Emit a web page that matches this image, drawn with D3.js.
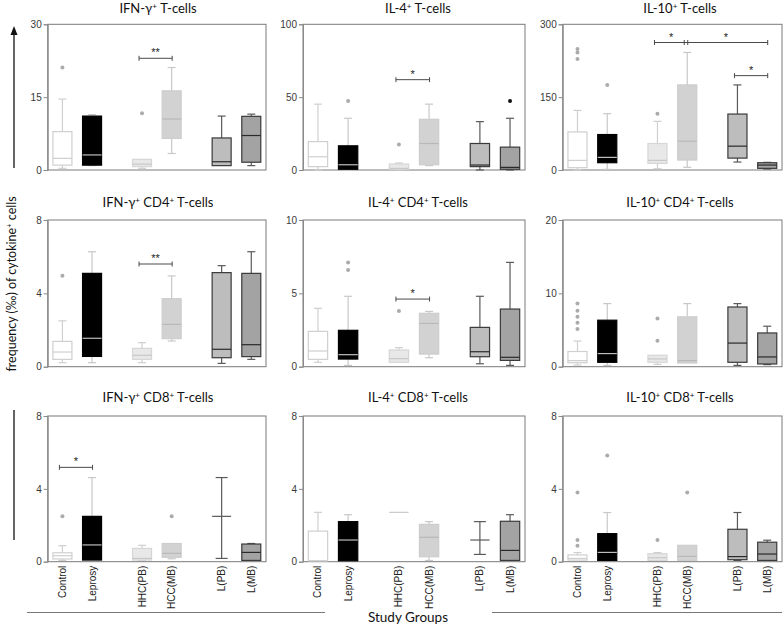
<!DOCTYPE html>
<html><head><meta charset="utf-8">
<script src="https://cdn.jsdelivr.net/npm/d3@7"></script>
<style>body{margin:0;background:#fff;} svg{display:block}</style>
</head><body><svg id="c" width="784" height="630"></svg>
<script>
// ---------- DATA ----------
const groups = ["Control","Leprosy","HHC(PB)","HCC(MB)","L(PB)","L(MB)"];
const titles = ["IFN-γ⁺ T-cells","IL-4⁺ T-cells","IL-10⁺ T-cells",
  "IFN-γ⁺ CD4⁺ T-cells","IL-4⁺ CD4⁺ T-cells","IL-10⁺ CD4⁺ T-cells",
  "IFN-γ⁺ CD8⁺ T-cells","IL-4⁺ CD8⁺ T-cells","IL-10⁺ CD8⁺ T-cells"];
const yTicks = [[0,15,30],[0,50,100],[0,150,300],[0,4,8],[0,5,10],[0,10,20],[0,4,8],[0,4,8],[0,4,8]];
const yAxisTitle = "frequency (‰) of cytokine⁺ cells";
const xAxisTitle = "Study Groups";
// box stats: [min, q1, median, q3, max]
const ifnT_stats = [[0.35,1.0,2.4,7.9,14.6],[0.9,1.0,3.1,11.1,11.4],[0.35,0.7,1.2,2.2,2.2],[3.4,6.5,10.5,16.3,21.1],[0.9,0.9,1.7,6.6,11.1],[0.9,1.6,7.1,11.05,11.5]];
const ifnT_out = [[21.1],[],[11.7],[],[],[]];
const ifnT_sig = [[2,3,23,"**"]];
const il4T_stats = [[0,2.3,9.1,19.5,45.2],[0,0.5,3.6,16.6,35.5],[0.2,0.5,1.1,4.1,4.8],[3,3.6,18.2,34.8,45.2],[0,2.3,3.4,18.2,33.2],[0,0.5,1.8,15.7,35.5]];
const il4T_out = [[],[47.3],[17.5],[],[],[47.3]];
const il4T_sig = [[2,3,62,"*"]];
const il10T_stats = [[0,4.8,19.8,78.4,122.7],[1.4,15,26,73,116],[2.7,13.6,19.8,54.5,100.2],[5.5,20.5,59.3,175.2,242],[16.4,24.5,49.1,115.2,175.2],[2,3.4,10.2,15,15.7]];
const il10T_out = [[248.9,242,228.4],[175.2],[116],[],[],[]];
const il10T_sig = [[2,3,262.5,"*"],[3,5,262.5,"*"],[4,5,194.3,"*"]];
const ifnCD4_stats = [[0.22,0.4,0.8,1.38,2.5],[0.22,0.56,1.55,5.09,6.27],[0.22,0.4,0.62,1.0,1.31],[1.4,1.53,2.31,3.71,4.95],[0.18,0.49,0.95,5.13,5.51],[0.4,0.55,1.2,5.09,6.27]];
const ifnCD4_out = [[4.96],[],[],[],[],[]];
const ifnCD4_sig = [[2,3,5.6,"**"]];
const il4CD4_stats = [[0.3,0.5,1.07,2.41,3.98],[0.09,0.52,0.82,2.48,4.8],[0.3,0.3,0.55,1.14,1.3],[0.61,0.86,2.95,3.64,3.77],[0.2,0.68,1.02,2.68,4.8],[0.09,0.43,0.64,3.93,7.11]];
const il4CD4_out = [[],[7.11,6.59],[3.8],[],[],[]];
const il4CD4_sig = [[2,3,4.61,"*"]];
const il10CD4_stats = [[0.23,0.55,0.83,2.07,3.5],[0.18,0.6,1.79,6.34,8.6],[0.32,0.6,1.06,1.56,1.56],[0.5,0.5,0.83,6.8,8.6],[0.18,0.6,3.22,8.14,8.6],[0.28,0.37,1.33,4.6,5.52]];
const il10CD4_out = [[8.6,7.63,6.8,5.98,5.15],[],[6.57,3.54],[],[],[]];
const il10CD4_sig = [];
const ifnCD8_stats = [[0.07,0.15,0.33,0.49,0.88],[0.09,0.09,0.92,2.49,4.62],[0.07,0.09,0.18,0.73,0.9],[0.16,0.24,0.46,1.0,1.0],[0.18,null,2.49,null,4.62],[0.07,0.07,0.51,0.97,1.0]];
const ifnCD8_out = [[2.5],[],[],[2.5],[],[]];
const ifnCD8_sig = [[0,1,5.18,"*"]];
const il4CD8_stats = [[0.05,0.05,0.05,1.68,2.71],[0.05,0.05,1.19,2.2,2.58],[2.71,2.71,2.71,2.71,2.71],[0.07,0.27,1.34,2.05,2.2],[0.4,null,1.19,null,2.2],[0.07,0.07,0.62,2.22,2.58]];
const il4CD8_out = [[],[],[],[],[],[]];
const il4CD8_sig = [];
const il10CD8_stats = [[0.09,0.09,0.18,0.37,0.5],[0.07,0.07,0.51,1.54,2.7],[0.07,0.07,0.22,0.44,0.5],[0.07,0.07,0.29,0.9,0.9],[0.07,0.11,0.28,1.78,2.7],[0.07,0.07,0.42,1.07,1.18]];
const il10CD8_out = [[3.8,1.19,0.88],[5.83],[1.19],[3.8],[],[]];
const il10CD8_sig = [];

const panelStats = [ifnT_stats,il4T_stats,il10T_stats,ifnCD4_stats,il4CD4_stats,il10CD4_stats,ifnCD8_stats,il4CD8_stats,il10CD8_stats];
const panelOut = [ifnT_out,il4T_out,il10T_out,ifnCD4_out,il4CD4_out,il10CD4_out,ifnCD8_out,il4CD8_out,il10CD8_out];
const panelSig = [ifnT_sig,il4T_sig,il10T_sig,ifnCD4_sig,il4CD4_sig,il10CD4_sig,ifnCD8_sig,il4CD8_sig,il10CD8_sig];

// ---------- STYLE / LAYOUT ----------
const fills   = ["#ffffff","#000000","#e8e8e8","#d2d2d2","#bdbdbd","#a3a3a3"];
const strokes = ["#cfcfcf","#000000","#d6d6d6","#cdcdcd","#3a3a3a","#3a3a3a"];
const medians = ["#cfcfcf","#bdbdbd","#c8c8c8","#b8b8b8","#2a2a2a","#2a2a2a"];
const whisk   = ["#cfcfcf","#c8c8c8","#cfcfcf","#c8c8c8","#5a5a5a","#5a5a5a"];
const outCol  = ["#ababab","#ababab","#ababab","#ababab","#111","#111"];
const colLeft = [47.7, 303, 562.7], colRight = [266, 525, 782];
const titleX = [158, 418, 680];
const rowTop = [24.3, 220, 416], rowBottom = [170, 366.7, 561.7];
const titleY = [13, 207, 402];
const tickFont = "'Liberation Sans', Arial, sans-serif";
const titleFont = "Lato, 'Open Sans', sans-serif";

const svg = d3.select("#c");

function supText(sel, str, size){
  const parts = str.split("⁺");
  parts.forEach((p,i)=>{
    if(p.length) sel.append("tspan").attr("font-size",size).attr("dy", i>0 ? size*0.3 : null).text(p);
    if(i<parts.length-1){
      sel.append("tspan").attr("font-size",size*0.62).attr("dy",-size*0.3).text("+");
      if(parts[i+1].length===0) sel.append("tspan").attr("font-size",size).attr("dy",size*0.3).text("");
    }
  });
}

panelStats.forEach((stats,i)=>{
  const col=i%3,row=Math.floor(i/3);
  const x0=colLeft[col], x1=colRight[col], y0=rowTop[row], y1=rowBottom[row];
  const W=x1-x0, H=y1-y0;
  const ticks=yTicks[i];
  const y=d3.scaleLinear().domain([0,d3.max(ticks)]).range([H,0]);
  const outer=d3.scaleBand().domain([0,1,2]).range([0,W]).paddingInner(0.458).paddingOuter(0.1);
  const inner=d3.scalePoint().domain([0,1]).range([0,outer.bandwidth()]).padding(0.228);
  const xc=k=>outer(Math.floor(k/2))+inner(k%2);
  const bw=W*0.087, cap=8;

  // title
  const t=svg.append("text").attr("x",titleX[col]).attr("y",titleY[row]).attr("text-anchor","middle")
    .attr("font-family",titleFont).attr("fill","#111");
  supText(t,titles[i],13);

  const g=svg.append("g").attr("transform",`translate(${x0},${y0})`);
  // frame
  g.append("rect").attr("x",0).attr("y",0).attr("width",W).attr("height",H)
    .attr("fill","none").attr("stroke","#7a7a7a").attr("stroke-width",1);
  // y axis
  const ax=g.append("g").call(d3.axisLeft(y).tickValues(ticks).tickSize(4).tickPadding(2).tickFormat(d3.format("d")));
  ax.select(".domain").attr("stroke","#8a8a8a");
  ax.selectAll(".tick line").attr("stroke","#8a8a8a");
  ax.selectAll(".tick text").attr("font-family",tickFont).attr("font-size",10).attr("fill","#3a3a3a");

  stats.forEach((s,k)=>{
    const [mn,q1,md,q3,mx]=s;
    const cx=xc(k);
    const bg=g.append("g");
    if(q1===null){
      const c2=12;
      bg.append("line").attr("x1",cx).attr("x2",cx).attr("y1",y(mn)).attr("y2",y(mx)).attr("stroke",whisk[k]).attr("stroke-width",1.2);
      [mn,mx].forEach(v=>bg.append("line").attr("x1",cx-c2/2).attr("x2",cx+c2/2).attr("y1",y(v)).attr("y2",y(v)).attr("stroke",whisk[k]).attr("stroke-width",1.2));
      bg.append("line").attr("x1",cx-bw/2).attr("x2",cx+bw/2).attr("y1",y(md)).attr("y2",y(md)).attr("stroke",whisk[k]).attr("stroke-width",1.2);
      return;
    }
    if(mx>q3){
      bg.append("line").attr("x1",cx).attr("x2",cx).attr("y1",y(q3)).attr("y2",y(mx)).attr("stroke",whisk[k]).attr("stroke-width",1.2);
      bg.append("line").attr("x1",cx-cap/2).attr("x2",cx+cap/2).attr("y1",y(mx)).attr("y2",y(mx)).attr("stroke",whisk[k]).attr("stroke-width",1.2);
    }
    if(mn<q1){
      bg.append("line").attr("x1",cx).attr("x2",cx).attr("y1",y(q1)).attr("y2",y(mn)).attr("stroke",whisk[k]).attr("stroke-width",1.2);
      bg.append("line").attr("x1",cx-cap/2).attr("x2",cx+cap/2).attr("y1",y(mn)).attr("y2",y(mn)).attr("stroke",whisk[k]).attr("stroke-width",1.2);
    }
    bg.append("rect").attr("x",cx-bw/2).attr("y",y(q3)).attr("width",bw).attr("height",Math.max(0,y(q1)-y(q3)))
      .attr("fill",fills[k]).attr("stroke",strokes[k]).attr("stroke-width",1.2);
    bg.append("line").attr("x1",cx-bw/2).attr("x2",cx+bw/2).attr("y1",y(md)).attr("y2",y(md)).attr("stroke",medians[k]).attr("stroke-width",1.2);
  });
  panelOut[i].forEach((arr,k)=>{
    arr.forEach(v=>g.append("circle").attr("cx",xc(k)).attr("cy",y(v)).attr("r",2).attr("fill",outCol[k]));
  });
  panelSig[i].forEach(([a,b,v,lab])=>{
    const xa=xc(a)-3, xb=xc(b)+0.5, yy=y(v);
    const sg=g.append("g").attr("stroke","#4a4a4a").attr("stroke-width",1);
    sg.append("line").attr("x1",xa).attr("x2",xb).attr("y1",yy).attr("y2",yy);
    sg.append("line").attr("x1",xa).attr("x2",xa).attr("y1",yy-2.5).attr("y2",yy+2.5);
    sg.append("line").attr("x1",xb).attr("x2",xb).attr("y1",yy-2.5).attr("y2",yy+2.5);
    g.append("text").attr("x",(xa+xb)/2).attr("y",yy-2).attr("text-anchor","middle")
      .attr("font-family",tickFont).attr("font-size",11).attr("fill","#222").text(lab);
  });
  if(row===2){
    groups.forEach((name,k)=>{
      g.append("text").attr("transform",`translate(${xc(k)},${H+4}) rotate(-90)`)
        .attr("text-anchor","end").attr("dy","0.35em")
        .attr("font-family",tickFont).attr("font-size",10).attr("fill","#222").text(name);
    });
  }
});

// y-axis arrow and line
svg.append("line").attr("x1",14).attr("x2",14).attr("y1",168).attr("y2",31).attr("stroke","#111").attr("stroke-width",1.3);
svg.append("path").attr("d","M10.5,35 L14,26 L17.5,35 Z").attr("fill","#111");
svg.append("line").attr("x1",14).attr("x2",14).attr("y1",410).attr("y2",540).attr("stroke","#111").attr("stroke-width",1.3);

const yl=svg.append("text").attr("transform","translate(16,284) rotate(-90)").attr("text-anchor","middle")
  .attr("font-family",titleFont).attr("fill","#111");
supText(yl,yAxisTitle,12.5);

// bottom lines & x title
svg.append("line").attr("x1",27).attr("x2",325).attr("y1",612.5).attr("y2",612.5).attr("stroke","#777");
svg.append("line").attr("x1",492).attr("x2",782).attr("y1",612.5).attr("y2",612.5).attr("stroke","#777");
svg.append("text").attr("x",408).attr("y",622).attr("text-anchor","middle").attr("font-family",titleFont)
  .attr("font-size",13.5).attr("fill","#111").text(xAxisTitle);
</script></body></html>
